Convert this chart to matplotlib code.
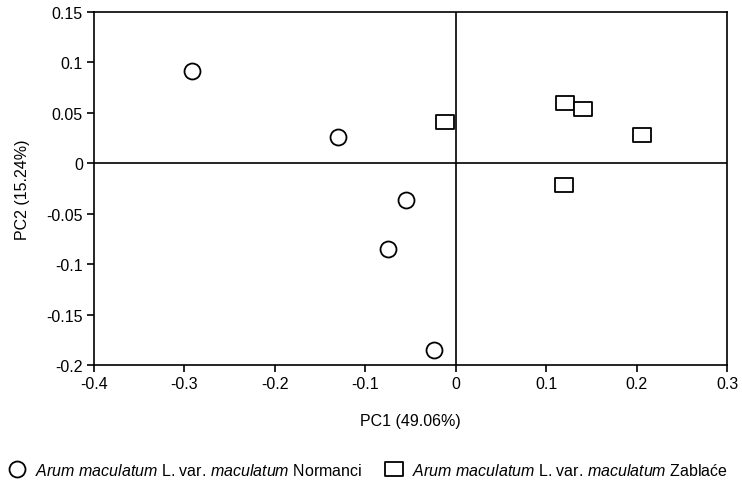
import matplotlib.pyplot as plt
from matplotlib.path import Path

plt.rcParams['font.family'] = ['Liberation Sans', 'DejaVu Sans']
plt.rcParams['mathtext.fontset'] = 'custom'
plt.rcParams['mathtext.it'] = 'Liberation Sans:italic'
plt.rcParams['mathtext.rm'] = 'Liberation Sans'

# PCA scores
normanci_pc1 = [-0.292, -0.130, -0.055, -0.075, -0.024]
normanci_pc2 = [0.092, 0.026, -0.036, -0.085, -0.185]
zablace_pc1 = [-0.012, 0.121, 0.141, 0.206, 0.120]
zablace_pc2 = [0.041, 0.060, 0.054, 0.028, -0.022]

x_ticks = [-0.4, -0.3, -0.2, -0.1, 0, 0.1, 0.2, 0.3]
y_ticks = [-0.2, -0.15, -0.1, -0.05, 0, 0.05, 0.1, 0.15]

label_n = r'$\it{Arum\ maculatum}$ L. var. $\it{maculatum}$ Normanci'
label_z = r'$\it{Arum\ maculatum}$ L. var. $\it{maculatum}$ Zablaće'

rect = Path([(-1, -0.8), (1, -0.8), (1, 0.8), (-1, 0.8), (-1, -0.8)],
            [Path.MOVETO, Path.LINETO, Path.LINETO, Path.LINETO, Path.CLOSEPOLY])

fig = plt.figure(figsize=(7.42, 4.89), dpi=100)
ax = fig.add_axes([0.1267, 0.2515, 0.8533, 0.7219])

ax.axhline(0, color='black', lw=1.2, zorder=1)
ax.axvline(0, color='black', lw=1.2, zorder=1)

ax.plot(normanci_pc1, normanci_pc2, 'o', ms=11.5, mfc='white', mec='black',
        mew=1.3, ls='none', label=label_n, zorder=3)
ax.plot(zablace_pc1, zablace_pc2, marker=rect, ms=13, mfc='white', mec='black',
        mew=1.3, ls='none', label=label_z, zorder=3)

ax.set_xlim(-0.4, 0.3)
ax.set_ylim(-0.2, 0.15)
ax.set_xticks(x_ticks)
ax.set_xticklabels(['-0.4', '-0.3', '-0.2', '-0.1', '0', '0.1', '0.2', '0.3'])
ax.set_yticks(y_ticks)
ax.set_yticklabels(['-0.2', '-0.15', '-0.1', '-0.05', '0', '0.05', '0.1', '0.15'])
ax.tick_params(direction='out', length=5, width=1.2, labelsize=11.5, pad=3)
for s in ax.spines.values():
    s.set_linewidth(1.2)

ax.set_xlabel('PC1 (49.06%)', fontsize=11.5, labelpad=16)
ax.set_ylabel('PC2 (15.24%)', fontsize=11.5, labelpad=12)

fig.legend(loc='center', bbox_to_anchor=(0.497, 0.037), ncol=2, frameon=False,
           fontsize=11.5, handletextpad=0.62, columnspacing=1.5, handlelength=1.0)

fig.savefig('out.png', dpi=100)
